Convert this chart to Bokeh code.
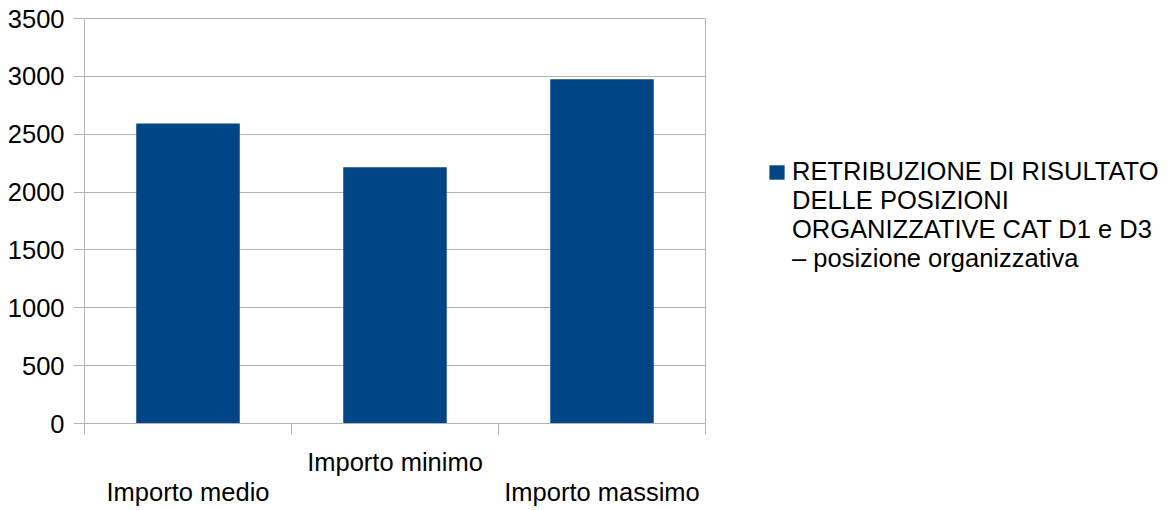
from bokeh.plotting import figure
from bokeh.models import Range1d, FixedTicker, LinearAxis, Legend, LegendItem
from bokeh.embed import file_html
from bokeh.resources import INLINE

categories = ["Importo medio", "Importo minimo", "Importo massimo"]
values = [2593, 2215, 2975]
series_lines = ["RETRIBUZIONE DI RISULTATO", "DELLE POSIZIONI",
                "ORGANIZZATIVE CAT D1 e D3", "– posizione organizzativa"]
y_ticks = [0, 500, 1000, 1500, 2000, 2500, 3000, 3500]

FONT = "Liberation Sans"
FS = "25.5px"
GRID = "#b3b3b3"
BAR = "#004586"

positions = [i + 0.5 for i in range(len(categories))]
boundaries = list(range(len(categories) + 1))

p = figure(frame_width=621, frame_height=405, output_backend="svg", toolbar_location=None,
           x_range=Range1d(0, len(categories)), y_range=Range1d(0, 3500),
           min_border_left=84, min_border_top=18, min_border_right=10, min_border_bottom=85,
           x_axis_location=None)
p.background_fill_color = "white"
p.border_fill_color = "white"
p.outline_line_color = GRID
p.outline_line_width = 1

r = p.vbar(x=positions, top=values, width=0.5, color=BAR, line_color=None)
# invisible companion renderer so the wrapped part of the series name carries no swatch
r_blank = p.vbar(x=[], top=[], width=0.5, fill_alpha=0, line_alpha=0)

# x axis: minor ticks at category boundaries, labels at category centers (staggered)
overrides = {}
for i, (pos, c) in enumerate(zip(positions, categories)):
    overrides[pos] = c if i % 2 == 1 else "\n" + c
xaxis = LinearAxis(ticker=FixedTicker(ticks=positions, minor_ticks=boundaries),
                   major_label_overrides=overrides)
xaxis.axis_line_color = GRID
xaxis.major_tick_line_color = None
xaxis.major_tick_out = 0
xaxis.major_tick_in = 0
xaxis.minor_tick_line_color = GRID
xaxis.minor_tick_out = 11
xaxis.minor_tick_in = 0
xaxis.major_label_standoff = 13
xaxis.major_label_text_font = FONT
xaxis.major_label_text_font_size = FS
xaxis.major_label_text_color = "black"
xaxis.major_label_text_line_height = 1.1
p.add_layout(xaxis, "below")

yaxis = p.yaxis[0]
yaxis.ticker = FixedTicker(ticks=y_ticks)
yaxis.axis_line_color = GRID
yaxis.major_tick_line_color = GRID
yaxis.major_tick_out = 11
yaxis.major_tick_in = 0
yaxis.minor_tick_line_color = None
yaxis.major_label_standoff = 9
yaxis.major_label_text_font = FONT
yaxis.major_label_text_font_size = FS
yaxis.major_label_text_color = "black"

p.xgrid.visible = False
p.ygrid.ticker = FixedTicker(ticks=y_ticks)
p.ygrid.grid_line_color = GRID
p.ygrid.grid_line_width = 1

legend = Legend(items=[LegendItem(label=series_lines[0], renderers=[r]),
                       LegendItem(label="\n".join(series_lines[1:]), renderers=[r_blank])],
                location=(62, 150), padding=0, margin=0, spacing=0,
                border_line_color=None, background_fill_alpha=0,
                glyph_width=19, glyph_height=18, label_standoff=6,
                label_text_font=FONT, label_text_font_size=FS,
                label_text_color="black", label_text_line_height=1.23)
p.add_layout(legend, "right")

open("out.html", "w").write(file_html(p, INLINE))
